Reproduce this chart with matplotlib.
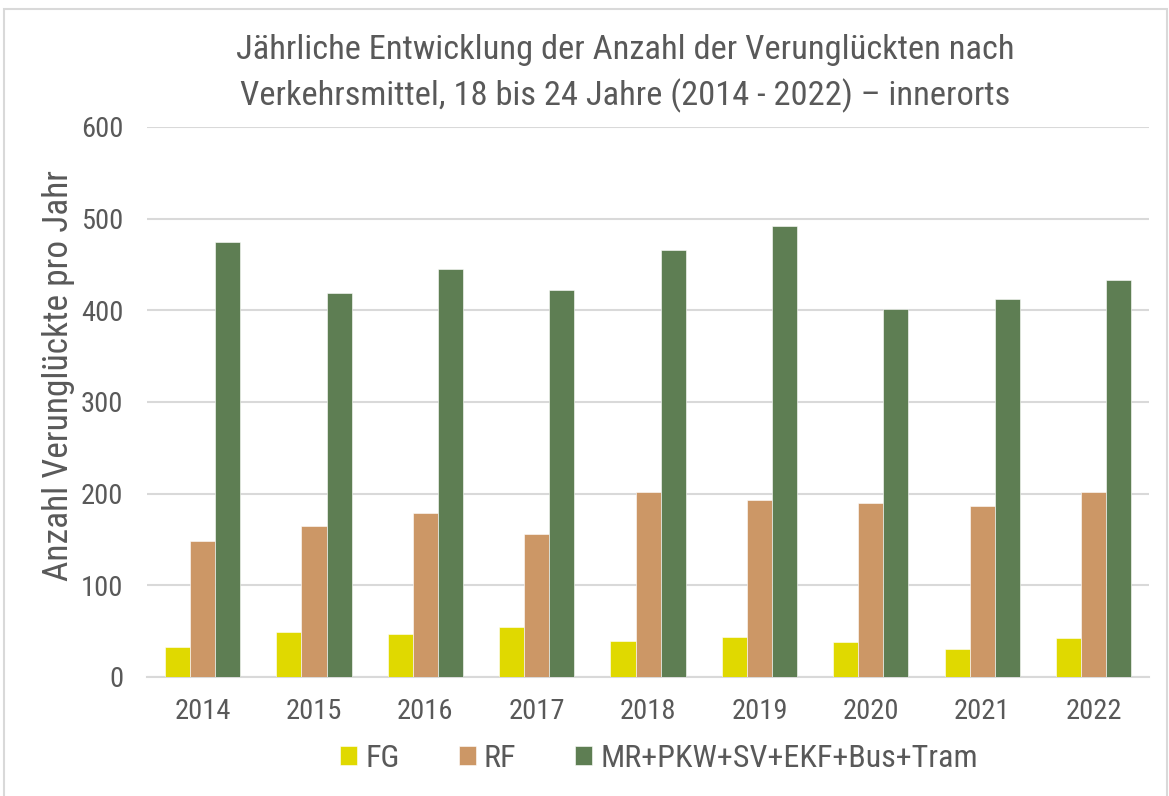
import matplotlib
matplotlib.use("Agg")
import matplotlib.pyplot as plt
import numpy as np
from matplotlib.patches import Rectangle

years = ["2014", "2015", "2016", "2017", "2018", "2019", "2020", "2021", "2022"]
fg = [33, 49, 47, 54, 39, 44, 38, 31, 43]
rf = [148, 165, 179, 156, 202, 193, 190, 186, 202]
mr = [475, 419, 445, 422, 466, 492, 401, 412, 433]
series_labels = ["FG", "RF", "MR+PKW+SV+EKF+Bus+Tram"]
colors = ["#E0D900", "#CC9766", "#5E7E53"]
yticks = [0, 100, 200, 300, 400, 500, 600]

plt.rcParams['font.family'] = ['Roboto Condensed', 'Liberation Sans', 'DejaVu Sans']
txt = "#595959"

fig = plt.figure(figsize=(11.69, 7.96), dpi=100)
ax = fig.add_axes([0.1257, 0.1495, 0.8573, 0.691])

x = np.arange(len(years))
w = 0.225
for i, (vals, lab, c) in enumerate(zip([fg, rf, mr], series_labels, colors)):
    ax.bar(x + (i - 1) * w, vals, width=w, color=c, label=lab, edgecolor='white', linewidth=0.4, zorder=3)

ax.set_xlim(-0.5, len(years) - 0.5)
ax.set_ylim(0, 600)
ax.set_yticks(yticks)
ax.set_yticklabels([str(t) for t in yticks], fontsize=20.5, color=txt)
ax.set_xticks(x)
ax.set_xticklabels(years, fontsize=20.5, color=txt)
ax.tick_params(axis='x', length=0, pad=15)
ax.tick_params(axis='y', length=0, pad=17)
ax.grid(axis='y', color='#D9D9D9', linewidth=1.5, zorder=0)
ax.set_axisbelow(True)
for s in ['top', 'right', 'left']:
    ax.spines[s].set_visible(False)
ax.spines['bottom'].set_color('#D9D9D9')
ax.spines['bottom'].set_linewidth(1.5)

ax.set_ylabel("Anzahl Verunglückte pro Jahr", fontsize=25.5, color=txt)
ax.yaxis.set_label_coords(-0.072, 0.548)

fig.text(0.5347, 0.9077, "Jährliche Entwicklung der Anzahl der Verunglückten nach\nVerkehrsmittel, 18 bis 24 Jahre (2014 - 2022) – innerorts",
         ha='center', va='center', fontsize=24.8, color=txt, linespacing=1.5)

leg = fig.legend(loc='center', bbox_to_anchor=(0.5637, 0.0471), ncol=3, frameon=False,
                 fontsize=23, handlelength=0.53, handleheight=0.53, columnspacing=1.85,
                 handletextpad=0.25, borderpad=0, borderaxespad=0)
for t in leg.get_texts():
    t.set_color(txt)

fig.patches.append(Rectangle((0.003, -0.01), 0.995, 0.9987, transform=fig.transFigure,
                             fill=False, edgecolor='#D9D9D9', linewidth=1.5))

fig.savefig("out.png", dpi=100, facecolor='white')
